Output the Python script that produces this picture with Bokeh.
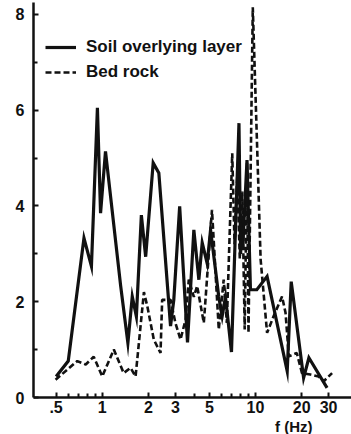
from bokeh.plotting import figure
from bokeh.models import FixedTicker, Legend, LegendItem, Title
from bokeh.embed import file_html
from bokeh.resources import INLINE

# Soil overlying layer (solid)
soil_f = [0.5, 0.6, 0.76, 0.85, 0.93, 0.975, 1.05, 1.32, 1.47, 1.57, 1.67, 1.80, 1.92,
          2.15, 2.34, 2.79, 2.93, 3.2, 3.6, 3.96, 4.27, 4.49, 4.84, 5.09, 5.48, 5.76,
          6.06, 6.37, 6.97, 7.4, 7.8, 8.0, 8.1, 8.25, 8.4, 8.8, 9.27, 10.2, 11.9,
          16.1, 17.1, 20.6, 22.3, 29.3]
soil_a = [0.44, 0.76, 3.33, 2.74, 6.05, 3.85, 5.14, 2.32, 1.14, 2.11, 1.69, 3.81, 2.94,
          4.9, 4.69, 1.49, 2.04, 3.99, 1.15, 3.5, 2.46, 3.23, 2.8, 3.5, 2.67, 2.1,
          1.7, 2.1, 0.95, 3.5, 5.73, 3.0, 3.8, 3.1, 3.64, 4.96, 2.25, 2.25, 2.53,
          0.55, 2.42, 0.41, 0.83, 0.2]

# Bed rock (dashed)
rock_f = [0.496, 0.59, 0.687, 0.78, 0.88, 1.0, 1.19, 1.38, 1.53, 1.65, 1.87, 1.97,
          2.17, 2.4, 2.46, 2.79, 3.0, 3.24, 3.5, 3.67, 3.96, 4.16, 4.6, 5.2, 5.6, 5.76,
          6.2, 6.5, 7.05, 7.3, 7.6, 7.9, 8.2, 8.5, 8.8, 9.0, 9.6, 10.8, 11.9, 13.1,
          14.9, 15.7, 16.5, 18.6, 20.1, 22.8, 25.8, 27.9, 31.6]
rock_a = [0.37, 0.58, 0.76, 0.69, 0.85, 0.44, 1.0, 0.51, 0.62, 0.44, 2.2, 1.9,
          1.21, 0.93, 2.04, 2.04, 1.56, 1.21, 1.63, 2.46, 2.1, 2.33, 1.56, 3.92, 2.1, 1.42,
          2.46, 1.56, 5.1, 3.2, 4.6, 2.9, 4.3, 1.42, 4.9, 1.35, 8.15, 2.88, 1.35, 1.69,
          2.11, 1.77, 0.86, 0.93, 0.51, 0.48, 0.44, 0.34, 0.51]

x_ticks = [0.5, 1, 2, 3, 5, 10, 20, 30]
x_tick_labels = [".5", "1", "2", "3", "5", "10", "20", "30"]
x_minor = [0.6, 0.7, 0.8, 0.9, 4, 6, 7, 8, 9]
y_ticks = [0, 2, 4, 6, 8]
y_minor = [1, 3, 5, 7]
legend_labels = ["Soil overlying layer", "Bed rock"]
x_title = "f (Hz)"

INK = "#111111"
FONT = "Liberation Sans"

p = figure(width=351, height=434, x_axis_type="log", x_range=(0.356, 42.3),
           y_range=(0, 8.25), output_backend="svg", toolbar_location=None,
           min_border_left=33, min_border_right=0, min_border_top=2,
           min_border_bottom=36)
p.grid.visible = False
p.outline_line_color = None
p.background_fill_color = "white"
p.border_fill_color = "white"

r1 = p.line(soil_f, soil_a, line_color=INK, line_width=3.2, line_join="miter")
r2 = p.line(rock_f, rock_a, line_color=INK, line_width=2.6, line_dash="6 3")

xa = p.xaxis[0]
xa.ticker = FixedTicker(ticks=x_ticks, minor_ticks=x_minor)
xa.major_label_overrides = {t: s for t, s in zip(x_ticks, x_tick_labels)}
xa.axis_line_width = 2.5
xa.axis_line_color = INK
xa.major_tick_in = 5
xa.major_tick_out = 0
xa.minor_tick_in = 4
xa.minor_tick_out = 0
xa.major_tick_line_width = 2
xa.minor_tick_line_width = 2
xa.major_tick_line_color = INK
xa.minor_tick_line_color = INK
xa.major_label_text_font = FONT
xa.major_label_text_font_size = "16px"
xa.major_label_text_font_style = "bold"
xa.major_label_text_color = INK
xa.major_label_standoff = 3

ya = p.yaxis[0]
ya.ticker = FixedTicker(ticks=y_ticks, minor_ticks=y_minor)
ya.axis_line_width = 2.5
ya.axis_line_color = INK
ya.major_tick_in = 5
ya.major_tick_out = 0
ya.minor_tick_in = 4
ya.minor_tick_out = 0
ya.major_tick_line_width = 2
ya.minor_tick_line_width = 2
ya.major_tick_line_color = INK
ya.minor_tick_line_color = INK
ya.major_label_text_font = FONT
ya.major_label_text_font_size = "16px"
ya.major_label_text_font_style = "bold"
ya.major_label_text_color = INK
ya.major_label_standoff = 9

legend = Legend(items=[LegendItem(label=legend_labels[0], renderers=[r1]),
                       LegendItem(label=legend_labels[1], renderers=[r2])],
                location=(12, 315), border_line_color=None, background_fill_alpha=0,
                padding=0, margin=0, spacing=5, glyph_width=31, glyph_height=20,
                label_height=20, label_standoff=10, label_text_font=FONT,
                label_text_font_size="17px", label_text_font_style="bold",
                label_text_color=INK)
p.add_layout(legend)

p.add_layout(Title(text=x_title, align="right", offset=39, standoff=0,
                   text_font=FONT, text_font_size="15px", text_font_style="bold",
                   text_color=INK), "below")

open("out.html", "w").write(file_html(p, INLINE))
